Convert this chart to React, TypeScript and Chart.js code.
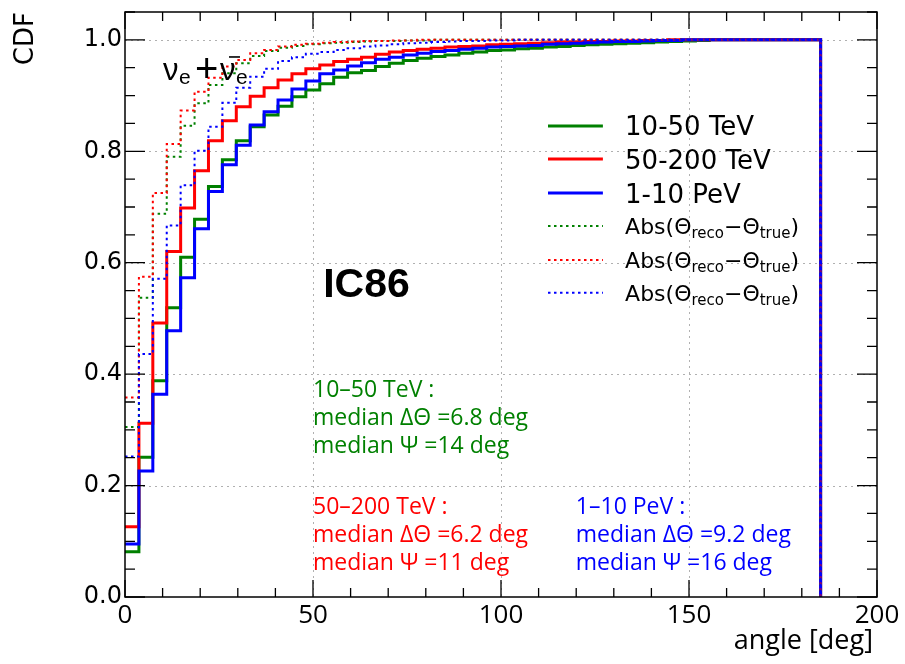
import { useEffect, useRef } from 'react';
import { Chart, registerables } from 'chart.js';

Chart.register(...registerables);

// ---------- data ----------
const BIN_WIDTH = 3.7; // deg, 50 bins from 0 to 185 deg
const ANGLE_MAX = 185;
const X_TICKS = [0, 50, 100, 150, 200];
const Y_TICKS = [0, 0.2, 0.4, 0.6, 0.8, 1.0];
const ENERGY_LABELS = ['10-50 TeV', '50-200 TeV', '1-10 PeV'];

// CDF of opening angle Psi (solid)
const PSI_10_50 = [
  0.081, 0.251, 0.388, 0.519, 0.610, 0.678, 0.737, 0.785, 0.819, 0.844,
  0.865, 0.881, 0.898, 0.910, 0.921, 0.933, 0.941, 0.945, 0.952, 0.958,
  0.963, 0.967, 0.970, 0.973, 0.976, 0.978, 0.981, 0.982, 0.984, 0.985,
  0.987, 0.988, 0.990, 0.991, 0.992, 0.993, 0.994, 0.995, 0.996, 0.997,
  0.998, 0.999, 1.0, 1.0, 1.0, 1.0, 1.0, 1.0, 1.0, 1.0,
];
const PSI_50_200 = [
  0.126, 0.312, 0.492, 0.620, 0.698, 0.765, 0.819, 0.855, 0.880, 0.899,
  0.914, 0.928, 0.939, 0.948, 0.955, 0.961, 0.965, 0.969, 0.974, 0.978,
  0.981, 0.983, 0.985, 0.987, 0.988, 0.989, 0.991, 0.992, 0.993, 0.994,
  0.995, 0.996, 0.996, 0.997, 0.997, 0.998, 0.998, 0.999, 0.999, 1.0,
  1.0, 1.0, 1.0, 1.0, 1.0, 1.0, 1.0, 1.0, 1.0, 1.0,
];
const PSI_1_10 = [
  0.095, 0.226, 0.364, 0.478, 0.573, 0.661, 0.728, 0.776, 0.811, 0.847,
  0.871, 0.892, 0.912, 0.926, 0.939, 0.946, 0.953, 0.959, 0.965, 0.969,
  0.973, 0.976, 0.979, 0.981, 0.983, 0.985, 0.987, 0.988, 0.989, 0.990,
  0.992, 0.993, 0.994, 0.995, 0.996, 0.997, 0.997, 0.998, 0.999, 0.999,
  1.0, 1.0, 1.0, 1.0, 1.0, 1.0, 1.0, 1.0, 1.0, 1.0,
];
// CDF of Abs(Theta_reco - Theta_true) (dotted)
const DTHETA_10_50 = [
  0.305, 0.537, 0.688, 0.790, 0.846, 0.886, 0.919, 0.940, 0.958, 0.971,
  0.980, 0.986, 0.989, 0.992, 0.994, 0.995, 0.996, 0.997, 0.998, 0.998,
  0.999, 0.999, 1.0, 1.0, 1.0, 1.0, 1.0, 1.0, 1.0, 1.0,
  1.0, 1.0, 1.0, 1.0, 1.0, 1.0, 1.0, 1.0, 1.0, 1.0,
  1.0, 1.0, 1.0, 1.0, 1.0, 1.0, 1.0, 1.0, 1.0, 1.0,
];
const DTHETA_50_200 = [
  0.358, 0.575, 0.725, 0.813, 0.873, 0.907, 0.932, 0.952, 0.964, 0.976,
  0.982, 0.988, 0.991, 0.993, 0.995, 0.996, 0.997, 0.998, 0.998, 0.999,
  0.999, 1.0, 1.0, 1.0, 1.0, 1.0, 1.0, 1.0, 1.0, 1.0,
  1.0, 1.0, 1.0, 1.0, 1.0, 1.0, 1.0, 1.0, 1.0, 1.0,
  1.0, 1.0, 1.0, 1.0, 1.0, 1.0, 1.0, 1.0, 1.0, 1.0,
];
const DTHETA_1_10 = [
  0.252, 0.436, 0.571, 0.667, 0.739, 0.801, 0.844, 0.887, 0.914, 0.934,
  0.948, 0.962, 0.969, 0.975, 0.978, 0.982, 0.985, 0.988, 0.990, 0.992,
  0.994, 0.995, 0.996, 0.997, 0.998, 0.998, 0.999, 0.999, 1.0, 1.0,
  1.0, 1.0, 1.0, 1.0, 1.0, 1.0, 1.0, 1.0, 1.0, 1.0,
  1.0, 1.0, 1.0, 1.0, 1.0, 1.0, 1.0, 1.0, 1.0, 1.0,
];

const MEDIAN_DTHETA = ['6.8', '6.2', '9.2'];
const MEDIAN_PSI = ['14', '11', '16'];
const MEDIAN_TITLES = ['10\u201350 TeV :', '50\u2013200 TeV :', '1\u201310 PeV :'];

// ---------- styles ----------
const GREEN = '#008000';
const RED = '#ff0000';
const BLUE = '#0000ff';
const COLORS = [GREEN, RED, BLUE];
const DOT_DASH = [2.5, 3.5];

function histPoints(values: number[]) {
  const pts = values.map((v, i) => ({ x: i * BIN_WIDTH, y: v }));
  pts.push({ x: ANGLE_MAX, y: values[values.length - 1] });
  pts.push({ x: ANGLE_MAX, y: 0 });
  return pts;
}

type Part = { t: string; font: string; dy?: number };
function drawRich(ctx: CanvasRenderingContext2D, x: number, y: number, parts: Part[]) {
  let cx = x;
  for (const p of parts) {
    ctx.font = p.font;
    ctx.fillText(p.t, cx, y + (p.dy || 0));
    cx += ctx.measureText(p.t).width;
  }
  return cx;
}

const framePlugin = {
  id: 'rootFrame',
  beforeDatasetsDraw(chart: any) {
    const { ctx, chartArea: a, scales } = chart;
    const xs = scales.x, ys = scales.y;
    ctx.save();
    ctx.strokeStyle = '#b0b0b0';
    ctx.lineWidth = 1;
    ctx.setLineDash([2, 4]);
    for (const v of X_TICKS) {
      const px = Math.round(xs.getPixelForValue(v)) + 0.5;
      if (px <= a.left + 1 || px >= a.right - 1) continue;
      ctx.beginPath(); ctx.moveTo(px, a.top); ctx.lineTo(px, a.bottom); ctx.stroke();
    }
    for (const v of Y_TICKS) {
      const py = Math.round(ys.getPixelForValue(v)) + 0.5;
      if (py >= a.bottom - 1) continue;
      ctx.beginPath(); ctx.moveTo(a.left, py); ctx.lineTo(a.right, py); ctx.stroke();
    }
    ctx.restore();
  },
  afterDatasetsDraw(chart: any) {
    const { ctx, chartArea: a, scales } = chart;
    const xs = scales.x, ys = scales.y;
    const X = (v: number) => xs.getPixelForValue(v);
    const Y = (v: number) => ys.getPixelForValue(v);
    ctx.save();
    // frame
    ctx.setLineDash([]);
    ctx.strokeStyle = '#000';
    ctx.lineWidth = 1.5;
    ctx.strokeRect(a.left, a.top, a.right - a.left, a.bottom - a.top);
    // ticks
    ctx.lineWidth = 1.3;
    ctx.beginPath();
    for (let i = 0; i <= 20; i++) {
      const v = i * 10;
      const major = i % 5 === 0;
      const len = major ? 17 : 9;
      const px = X(v);
      ctx.moveTo(px, a.bottom); ctx.lineTo(px, a.bottom - len);
      ctx.moveTo(px, a.top); ctx.lineTo(px, a.top + len);
    }
    for (let i = 0; i <= 21; i++) {
      const v = i * 0.05;
      const major = i % 4 === 0;
      const len = major ? 20 : 10;
      const py = Y(v);
      ctx.moveTo(a.left, py); ctx.lineTo(a.left + len, py);
      ctx.moveTo(a.right, py); ctx.lineTo(a.right - len, py);
    }
    ctx.stroke();

    ctx.fillStyle = '#000';
    ctx.textBaseline = 'alphabetic';
    ctx.textAlign = 'left';

    // nu_e + anti-nu_e
    {
      const x0 = X(10.1), base = Y(0.928);
      const big = '31px "Liberation Sans"';
      const sub = '21px "Liberation Sans"';
      ctx.font = big;
      ctx.fillText('\u03BD', x0, base);
      ctx.font = sub;
      ctx.fillText('e', x0 + 16, base + 4);
      ctx.font = '40px "Liberation Sans"';
      ctx.fillText('+', x0 + 32, base + 2);
      ctx.font = big;
      ctx.fillText('\u03BD', x0 + 57, base);
      ctx.font = sub;
      ctx.fillText('e', x0 + 73, base + 4);
      ctx.lineWidth = 1.6;
      ctx.beginPath();
      ctx.moveTo(x0 + 66, base - 23);
      ctx.lineTo(x0 + 77, base - 23);
      ctx.stroke();
    }

    // IC86
    ctx.font = 'bold 41px "Liberation Sans"';
    ctx.fillText('IC86', X(52.7), Y(0.5386));

    // legend
    const legendY = [0.8456, 0.786, 0.725, 0.666, 0.605, 0.546];
    const lx0 = X(112.5), lx1 = X(127.1), tx = X(133.0);
    for (let i = 0; i < 6; i++) {
      const dotted = i >= 3;
      const color = COLORS[i % 3];
      const py = Y(legendY[i]);
      ctx.strokeStyle = color;
      ctx.lineWidth = dotted ? 2 : 3;
      ctx.setLineDash(dotted ? DOT_DASH : []);
      ctx.beginPath(); ctx.moveTo(lx0, py); ctx.lineTo(lx1, py); ctx.stroke();
      ctx.setLineDash([]);
      ctx.fillStyle = '#000';
      if (!dotted) {
        ctx.font = '26px "DejaVu Sans"';
        ctx.fillText(ENERGY_LABELS[i], tx, py + 9.5);
      } else {
        const f = '22px "DejaVu Sans"', s = '15px "DejaVu Sans"';
        drawRich(ctx, tx, py + 8.5, [
          { t: 'Abs(\u0398', font: f },
          { t: 'reco', font: s, dy: 3.5 },
          { t: '\u2212\u0398', font: f },
          { t: 'true', font: s, dy: 3.5 },
          { t: ')', font: f },
        ]);
      }
    }

    // medians
    const medFont = '23px "Open Sans"';
    const blocks = [
      { x: 50.0, y: [0.359, 0.309, 0.259] },
      { x: 50.0, y: [0.149, 0.0993, 0.0485] },
      { x: 119.9, y: [0.149, 0.0993, 0.0485] },
    ];
    ctx.font = medFont;
    for (let k = 0; k < 3; k++) {
      ctx.fillStyle = COLORS[k];
      const bx = X(blocks[k].x);
      ctx.fillText(MEDIAN_TITLES[k], bx, Y(blocks[k].y[0]));
      ctx.fillText('median \u0394\u0398 =' + MEDIAN_DTHETA[k] + ' deg', bx, Y(blocks[k].y[1]));
      ctx.fillText('median \u03A8 =' + MEDIAN_PSI[k] + ' deg', bx, Y(blocks[k].y[2]));
    }

    // axis titles
    ctx.fillStyle = '#000';
    ctx.font = '27px "Open Sans"';
    ctx.textAlign = 'right';
    ctx.fillText('angle [deg]', a.right - 4, a.bottom + 52);
    ctx.save();
    ctx.translate(33, a.top);
    ctx.rotate(-Math.PI / 2);
    ctx.font = '26px "DejaVu Sans"';
    ctx.textAlign = 'right';
    ctx.fillText('CDF', 0, 0);
    ctx.restore();

    ctx.restore();
  },
};

export default function App() {
  const ref = useRef<HTMLCanvasElement | null>(null);
  useEffect(() => {
    if (!ref.current) return;
    const solid = [PSI_10_50, PSI_50_200, PSI_1_10];
    const dotted = [DTHETA_10_50, DTHETA_50_200, DTHETA_1_10];
    const datasets: any[] = [];
    solid.forEach((vals, i) =>
      datasets.push({
        label: ENERGY_LABELS[i],
        data: histPoints(vals),
        borderColor: COLORS[i],
        borderWidth: 3,
        stepped: 'before',
        pointRadius: 0,
        fill: false,
        order: 6 - i,
      })
    );
    dotted.forEach((vals, i) =>
      datasets.push({
        label: 'Abs(\u0398reco\u2212\u0398true) ' + ENERGY_LABELS[i],
        data: histPoints(vals),
        borderColor: COLORS[i],
        borderWidth: 2,
        borderDash: DOT_DASH,
        stepped: 'before',
        pointRadius: 0,
        fill: false,
        order: 3 - i,
      })
    );
    const chart = new Chart(ref.current, {
      type: 'line',
      data: { datasets },
      options: {
        responsive: false,
        animation: false,
        devicePixelRatio: 1,
        parsing: false,
        layout: { padding: { top: 12, right: 28, left: 0, bottom: 0 } },
        plugins: { legend: { display: false }, tooltip: { enabled: false } },
        scales: {
          x: {
            type: 'linear',
            min: 0,
            max: 200,
            grid: { display: false, drawTicks: false },
            border: { display: false },
            afterBuildTicks: (s: any) => { s.ticks = X_TICKS.map((v) => ({ value: v })); },
            afterFit: (s: any) => { s.height = 67; s.paddingLeft = 0; s.paddingRight = 0; },
            ticks: {
              font: { family: 'Open Sans', size: 26 },
              color: '#000',
              padding: 3,
              maxRotation: 0,
              autoSkip: false,
              callback: (v: any) => String(v),
            },
          },
          y: {
            type: 'linear',
            min: 0,
            max: 1.05,
            grid: { display: false, drawTicks: false },
            border: { display: false },
            afterBuildTicks: (s: any) => { s.ticks = Y_TICKS.map((v) => ({ value: v })); },
            afterFit: (s: any) => { s.width = 125; s.paddingTop = 0; s.paddingBottom = 0; },
            ticks: {
              font: { family: 'DejaVu Sans', size: 24 },
              color: '#000',
              padding: 3,
              autoSkip: false,
              callback: (v: any) => Number(v).toFixed(1),
            },
          },
        },
      },
      plugins: [framePlugin],
    });
    return () => chart.destroy();
  }, []);
  return (
    <div style={{ position: 'fixed', left: 0, top: 0, width: 905, height: 664, background: '#fff' }}>
      <canvas ref={ref} width={905} height={664} style={{ display: 'block' }} />
    </div>
  );
}
